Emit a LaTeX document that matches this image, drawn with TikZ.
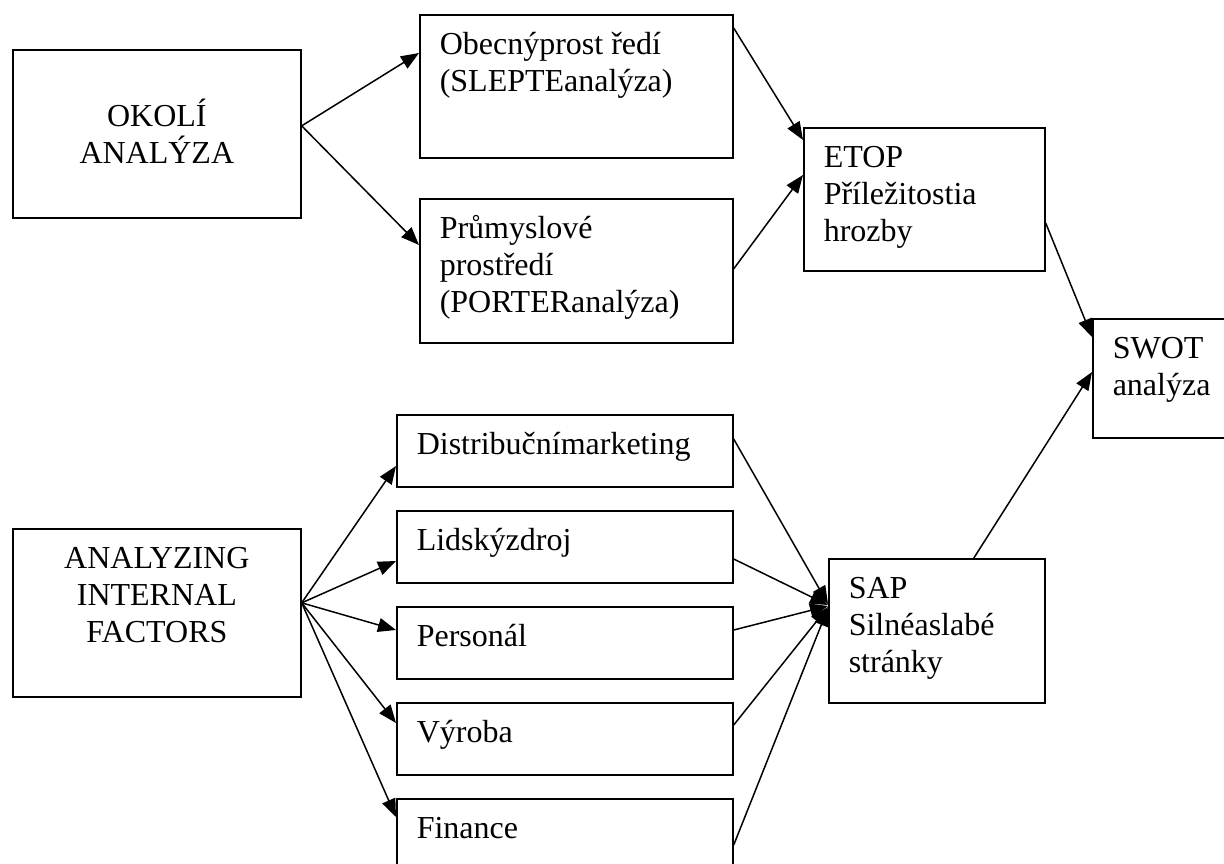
\documentclass[tikz,border=0pt]{standalone}
\usepackage{fontspec}
\setmainfont{Liberation Serif}
\usetikzlibrary{arrows.meta}
\newcommand{\topstrut}{\rule{0pt}{30pt}}
\begin{document}
\begin{tikzpicture}[x=1pt, y=-1pt, line width=1.5pt,
  box/.style={draw, line width=1.7pt, anchor=north west, inner sep=0pt},
  txt/.style={anchor=north west, align=left, inner xsep=20pt, inner ysep=10pt, font=\fontsize{32}{37}\selectfont},
  ctxt/.style={txt, anchor=north, align=center, inner xsep=0pt},
  arr/.style={-{Triangle[length=18pt,width=14pt]}}]
  \clip (0,0) rectangle (1224,863);
  % okolí
  \node[box, minimum width=288pt, minimum height=168pt] (okoli) at (12,49) {};
  \node[ctxt, inner ysep=47pt] (okoliT) at (okoli.north) {\topstrut OKOLÍ\\ANALÝZA};
  \node[box, minimum width=313pt, minimum height=143pt] (obecny) at (419,14) {};
  \node[txt] (obecnyT) at (obecny.north west) {\topstrut Obecnýprost ředí\\(SLEPTEanalýza)};
  \node[box, minimum width=313pt, minimum height=144pt] (prumysl) at (419,198) {};
  \node[txt] (prumyslT) at (prumysl.north west) {\topstrut Průmyslové\\prostředí\\(PORTERanalýza)};
  \node[box, minimum width=241pt, minimum height=143pt] (etop) at (803,127) {};
  \node[txt] (etopT) at (etop.north west) {\topstrut ETOP\\Příležitostia\\hrozby};
  \node[box, minimum width=160pt, minimum height=119pt] (swot) at (1092,318) {};
  \node[txt] (swotT) at (swot.north west) {\topstrut SWOT\\analýza};
  % vnitřní faktory
  \node[box, minimum width=288pt, minimum height=168pt] (internal) at (12,528) {};
  \node[ctxt] (internalT) at (internal.north) {\topstrut ANALYZING\\INTERNAL\\FACTORS};
  \node[box, minimum width=336pt, minimum height=72pt] (distrib) at (396,414) {};
  \node[txt] (distribT) at (distrib.north west) {\topstrut Distribučnímarketing};
  \node[box, minimum width=336pt, minimum height=72pt] (lidsky) at (396,510) {};
  \node[txt] (lidskyT) at (lidsky.north west) {\topstrut Lidskýzdroj};
  \node[box, minimum width=336pt, minimum height=72pt] (personal) at (396,606) {};
  \node[txt] (personalT) at (personal.north west) {\topstrut Personál};
  \node[box, minimum width=336pt, minimum height=72pt] (vyroba) at (396,702) {};
  \node[txt] (vyrobaT) at (vyroba.north west) {\topstrut Výroba};
  \node[box, minimum width=336pt, minimum height=72pt] (finance) at (396,798) {};
  \node[txt] (financeT) at (finance.north west) {\topstrut Finance};
  \node[box, minimum width=216pt, minimum height=144pt] (sap) at (828,558) {};
  \node[txt] (sapT) at (sap.north west) {\topstrut SAP\\Silnéaslabé\\stránky};
  % šipky nahoře
  \draw[arr] ([yshift=8pt]okoli.east) -- ([yshift=-39pt]obecny.north west);
  \draw[arr] ([yshift=8pt]okoli.east) -- ([yshift=-47pt]prumysl.north west);
  \draw[arr] ([yshift=-14pt]obecny.north east) -- ([yshift=-13pt]etop.north west);
  \draw[arr] ([yshift=2pt]prumysl.east) -- ([yshift=-48pt]etop.north west);
  \draw[arr] ([yshift=-96pt]etop.north east) -- ([yshift=-19pt]swot.north west);
  \draw[arr] ([xshift=37pt]sap.north) -- ([yshift=-54pt]swot.north west);
  % šipky dole
  \draw[arr] ([yshift=10pt]internal.east) -- ([yshift=-52pt]distrib.north west);
  \draw[arr] ([yshift=10pt]internal.east) -- ([yshift=-51pt]lidsky.north west);
  \draw[arr] ([yshift=10pt]internal.east) -- ([yshift=-24pt]personal.north west);
  \draw[arr] ([yshift=10pt]internal.east) -- ([yshift=-21pt]vyroba.north west);
  \draw[arr] ([yshift=10pt]internal.east) -- ([yshift=-19pt]finance.north west);
  \draw[arr] ([yshift=-25pt]distrib.north east) -- ([yshift=-46pt]sap.north west);
  \draw[arr] ([yshift=-49pt]lidsky.north east) -- ([yshift=-47pt]sap.north west);
  \draw[arr] ([yshift=-24pt]personal.north east) -- ([yshift=-48pt]sap.north west);
  \draw[arr] ([yshift=-23pt]vyroba.north east) -- ([yshift=-49pt]sap.north west);
  \draw[arr] ([yshift=-47pt]finance.north east) -- ([yshift=-50pt]sap.north west);
\end{tikzpicture}
\end{document}
